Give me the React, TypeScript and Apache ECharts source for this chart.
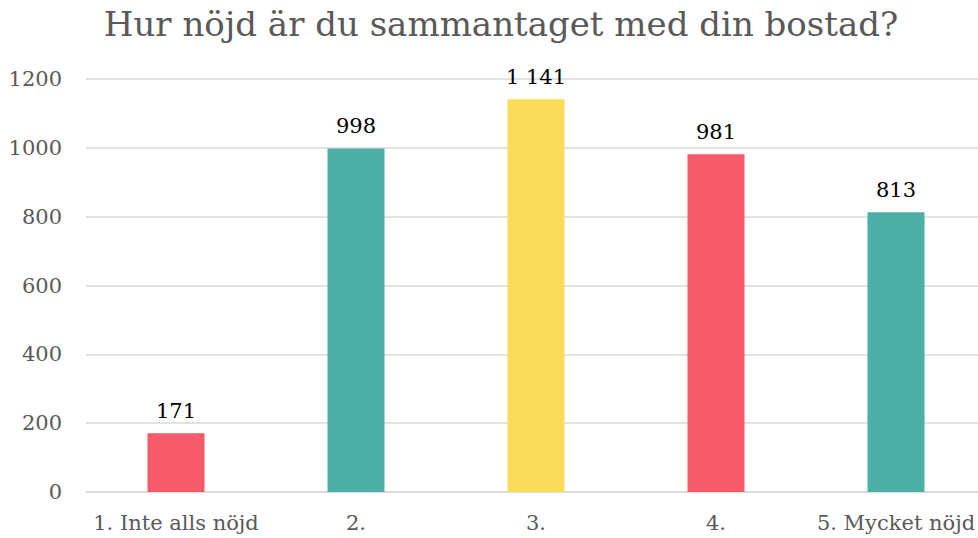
import React, { useEffect, useRef } from "react";
import * as echarts from "echarts";

const categories = ["1. Inte alls nöjd", "2.", "3.", "4.", "5. Mycket nöjd"];
const values = [171, 998, 1141, 981, 813];
const colors = ["#F75B69", "#4BAFA5", "#FADB5A", "#F75B69", "#4BAFA5"];
const titleText = "Hur nöjd är du sammantaget med din bostad?";

const FONT = "DejaVu Serif";

export default function App() {
  const ref = useRef<HTMLDivElement>(null);
  useEffect(() => {
    const chart = echarts.init(ref.current!, null, { renderer: "svg" });
    chart.setOption({
      animation: false,
      backgroundColor: "#ffffff",
      title: {
        text: titleText,
        left: 496,
        textAlign: "center",
        top: 2,
        textStyle: { fontFamily: FONT, fontSize: 34, fontWeight: "normal", color: "#595959" },
      },
      grid: { left: 86, right: 0, top: 79, bottom: 46, containLabel: false },
      xAxis: {
        type: "category",
        data: categories,
        axisLine: { show: true, lineStyle: { color: "#D9D9D9", width: 1.5 } },
        axisTick: { show: false },
        axisLabel: { fontFamily: FONT, fontSize: 21, color: "#595959", margin: 20, interval: 0 },
      },
      yAxis: {
        type: "value",
        min: 0,
        max: 1200,
        interval: 200,
        axisLine: { show: false },
        axisTick: { show: false },
        splitLine: { lineStyle: { color: "#D9D9D9", width: 1.5 } },
        axisLabel: {
          fontFamily: FONT,
          fontSize: 21,
          color: "#595959",
          margin: 24,
          formatter: (v: number) => String(v),
        },
      },
      series: [
        {
          type: "bar",
          data: values.map((v, i) => ({ value: v, itemStyle: { color: colors[i] } })),
          barWidth: 57,
          label: {
            show: true,
            position: "top",
            distance: 12,
            fontFamily: FONT,
            fontSize: 21,
            color: "#000000",
            formatter: (p: any) => String(p.value).replace(/\B(?=(\d{3})+(?!\d))/g, " "),
          },
        },
      ],
    });
    return () => chart.dispose();
  }, []);
  return (
    <div style={{ width: 978, height: 538, position: "absolute", left: 0, top: 0, overflow: "hidden" }}>
      <div ref={ref} style={{ width: 986, height: 538 }} />
    </div>
  );
}
